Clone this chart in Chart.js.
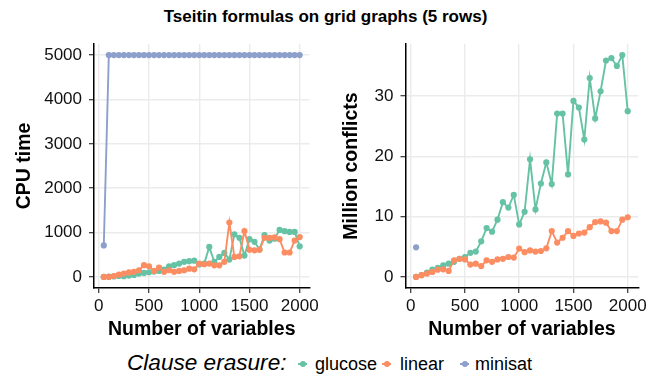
<!DOCTYPE html>
<html>
<head>
<meta charset="utf-8">
<script src="https://cdn.jsdelivr.net/npm/chart.js@4.4.1/dist/chart.umd.min.js"></script>
<style>
  html, body { margin: 0; padding: 0; background: #fff; }
  body { width: 659px; height: 376px; position: relative; overflow: hidden; font-family: "Liberation Sans", Arial, sans-serif; color: #000; }
  #title { position: absolute; left: 0; width: 651px; top: 7px; text-align: center; font-weight: bold; font-size: 17px; line-height: 20px; }
  #left { position: absolute; left: 0; top: 0; }
  #right { position: absolute; left: 330px; top: 0; }
  .lg { position: absolute; white-space: nowrap; }
  #lgTitle { left: 127px; top: 351px; font-size: 22.6px; line-height: 23px; font-style: italic; }
  .lgText { top: 355px; font-size: 18px; line-height: 18px; }
  .key { position: absolute; top: 361px; width: 9px; height: 6px; }
  .key::before { content: ""; position: absolute; left: 0; right: 0; top: 2px; height: 2px; background: var(--c); }
  .key::after { content: ""; position: absolute; left: 1.5px; top: 0; width: 6px; height: 6px; border-radius: 50%; background: var(--c); }
</style>
</head>
<body>
<div id="title">Tseitin formulas on grid graphs (5 rows)</div>
<canvas id="left" width="322" height="345"></canvas>
<canvas id="right" width="329" height="345"></canvas>
<div id="lgTitle" class="lg">Clause erasure:</div>
<span class="key" style="left:298px; --c:#66c2a5"></span>
<div class="lg lgText" style="left:315px">glucose</div>
<span class="key" style="left:382px; --c:#fc8d62"></span>
<div class="lg lgText" style="left:400px">linear</div>
<span class="key" style="left:460px; --c:#8da0cb"></span>
<div class="lg lgText" style="left:475px">minisat</div>
<script>
// numero de variables (eje x)
const nVars = [50, 100, 150, 200, 250, 300, 350, 400, 450, 500,
  550, 600, 650, 700, 750, 800, 850, 900, 950, 1000,
  1050, 1100, 1150, 1200, 1250, 1300, 1350, 1400, 1450, 1500,
  1550, 1600, 1650, 1700, 1750, 1800, 1850, 1900, 1950, 2000];

// CPU time
const cpuGlucose = [0, 5, 10, 20, 15, 30, 45, 75, 90, 105,
  120, 135, 165, 240, 265, 300, 340, 355, 365, 280,
  300, 675, 340, 450, 540, 390, 960, 880, 480, 850,
  790, 620, 940, 820, 860, 1060, 1030, 1015, 1015, 690];
const cpuLinear = [0, 0, 20, 50, 75, 100, 115, 150, 265, 240,
  135, 210, 115, 150, 115, 135, 150, 185, 170, 300,
  285, 300, 260, 260, 340, 1225, 450, 465, 1035, 610,
  600, 610, 880, 880, 890, 850, 550, 550, 820, 900];
const cpuMinisat = [710, 5000, 5000, 5000, 5000, 5000, 5000, 5000, 5000, 5000,
  5000, 5000, 5000, 5000, 5000, 5000, 5000, 5000, 5000, 5000,
  5000, 5000, 5000, 5000, 5000, 5000, 5000, 5000, 5000, 5000,
  5000, 5000, 5000, 5000, 5000, 5000, 5000, 5000, 5000, 5000];

// Million conflicts
const conflGlucose = [0.0, 0.3, 0.7, 1.2, 1.5, 1.9, 2.2, 2.5, 3.0, 3.3,
  4.0, 4.2, 5.9, 8.1, 7.5, 9.5, 12.4, 11.5, 13.6, 8.7,
  10.8, 19.5, 11.2, 15.5, 19.0, 15.4, 27.1, 27.1, 17.0, 29.2,
  28.1, 22.8, 33.0, 26.3, 30.8, 35.9, 36.3, 35.0, 36.8, 27.5];
const conflLinear = [0.0, 0.28, 0.55, 0.83, 1.2, 1.25, 1.0, 2.75, 3.0, 2.9,
  2.05, 2.2, 1.8, 2.75, 2.5, 2.9, 3.0, 3.3, 3.2, 4.7,
  4.1, 4.4, 4.2, 4.3, 4.75, 7.6, 5.7, 6.5, 7.6, 6.8,
  7.2, 7.35, 8.25, 9.1, 9.2, 9.0, 7.6, 7.6, 9.5, 9.9];
const conflMinisatX = [50];
const conflMinisat = [4.9];

const xTicks = [0, 500, 1000, 1500, 2000];
const cpuTicks = [0, 1000, 2000, 3000, 4000, 5000];
const conflTicks = [0, 10, 20, 30];

const COLORS = { glucose: "#66c2a5", linear: "#fc8d62", minisat: "#8da0cb" };

Chart.defaults.font.family = '"Liberation Sans", Arial, sans-serif';

function toPoints(xs, ys) {
  return xs.map((x, i) => ({ x: x, y: ys[i] }));
}

function serie(color, xs, ys) {
  return {
    data: toPoints(xs, ys),
    borderColor: color,
    backgroundColor: color,
    pointBackgroundColor: color,
    borderWidth: 1.9,
    pointRadius: 3.1,
    pointBorderWidth: 0,
    tension: 0,
  };
}

function initPanel(canvasId, datasets, yTicks, yMin, yMax, yTitle, yWidth, yTitlePad, padRight) {
  const ctx = document.getElementById(canvasId).getContext("2d");
  return new Chart(ctx, {
    type: "line",
    data: { datasets: datasets },
    options: {
      responsive: false,
      animation: false,
      layout: { padding: { top: 44, right: padRight, bottom: 0, left: 0 } },
      plugins: { legend: { display: false }, tooltip: { enabled: false } },
      scales: {
        x: {
          type: "linear",
          min: -47.5,
          max: 2097.5,
          afterBuildTicks: (s) => { s.ticks = xTicks.map((v) => ({ value: v })); },
          afterFit: (s) => { s.height = 57; },
          grid: { color: "#ebebeb", lineWidth: 1.4, tickColor: "#333", tickLength: 5, tickWidth: 1.2 },
          border: { color: "#000", width: 1.5 },
          ticks: { color: "#111", font: { size: 17 }, padding: 3, maxRotation: 0, autoSkip: false, callback: (v) => String(v) },
          title: { display: true, text: "Number of variables", color: "#000", font: { size: 19.5, weight: "bold" }, padding: { top: 0, bottom: 4 } },
        },
        y: {
          type: "linear",
          min: yMin,
          max: yMax,
          afterBuildTicks: (s) => { s.ticks = yTicks.map((v) => ({ value: v })); },
          afterFit: (s) => { s.width = yWidth; },
          grid: { color: "#ebebeb", lineWidth: 1.4, tickColor: "#333", tickLength: 5, tickWidth: 1.2 },
          border: { color: "#000", width: 1.5 },
          ticks: { color: "#111", font: { size: 17 }, padding: 7, callback: (v) => String(v) },
          title: { display: true, text: yTitle, color: "#000", font: { size: 19.5, weight: "bold" }, padding: { top: yTitlePad, bottom: 0 } },
        },
      },
    },
  });
}

// el orden: minisat arriba, luego linear, glucose debajo
initPanel("left", [
  serie(COLORS.minisat, nVars, cpuMinisat),
  serie(COLORS.linear, nVars, cpuLinear),
  serie(COLORS.glucose, nVars, cpuGlucose),
], cpuTicks, -250, 5250, "CPU time", 94, 13, 9);

initPanel("right", [
  serie(COLORS.minisat, conflMinisatX, conflMinisat),
  serie(COLORS.linear, nVars, conflLinear),
  serie(COLORS.glucose, nVars, conflGlucose),
], conflTicks, -1.84, 38.64, "Million conflicts", 75.5, 10, 20.7);
</script>
</body>
</html>
